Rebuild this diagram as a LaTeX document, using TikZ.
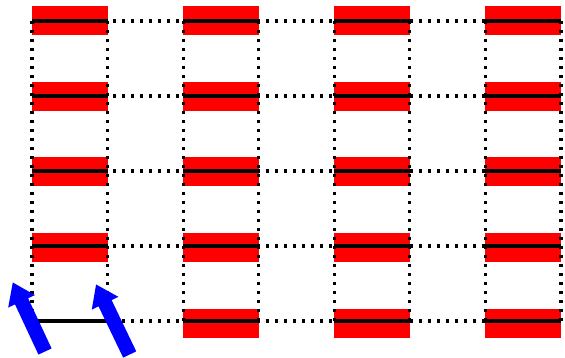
\documentclass[tikz,border=0pt]{standalone}
\usepackage{tikz}
\usetikzlibrary{arrows.meta}
\tikzset{
  gridline/.style={line width=0.065cm,dash pattern=on 0.065cm off 0.115cm},
  rung/.style={line width=0.07cm},
  pad/.style={fill=red},
  push/.style={draw=blue,line width=0.29cm,-{Triangle[length=0.42cm,width=0.56cm]}}
}
\begin{document}
\begin{tikzpicture}[x=0.02cm,y=-0.02cm]
  \useasboundingbox (0,0) rectangle (565,358);
  % red pads
  \foreach \c in {0,2,4,6} {
    \foreach \r in {0,...,3} {\fill[pad] ({32+75.57*\c},{6+75.75*\r}) rectangle ({32+75.57*(\c+1)},{35+75.75*\r});}
  }
  \foreach \c in {2,4,6} {\fill[pad] ({32+75.57*\c},309) rectangle ({32+75.57*(\c+1)},338);}
  % dotted grid
  \foreach \c in {0,...,7} {\draw[gridline] ({32+75.57*\c},21) -- ({32+75.57*\c},321);}
  \foreach \r in {0,...,4} {\draw[gridline] (32,{21+75*\r}) -- (561,{21+75*\r});}
  % solid rungs
  \foreach \c in {0,2,4,6} {
    \foreach \r in {0,...,4} {\draw[rung] ({32+75.57*\c},{21+75*\r}) -- ({32+75.57*(\c+1)},{21+75*\r});}
  }
  % arrows
  \coordinate (tailA) at (45,351.5);
  \coordinate (tipA) at (12.7,282.3);
  \coordinate (tailB) at (129.7,354.5);
  \coordinate (tipB) at (96,284.3);
  \draw[push] (tailA) -- (tipA);
  \draw[push] (tailB) -- (tipB);
\end{tikzpicture}
\end{document}
